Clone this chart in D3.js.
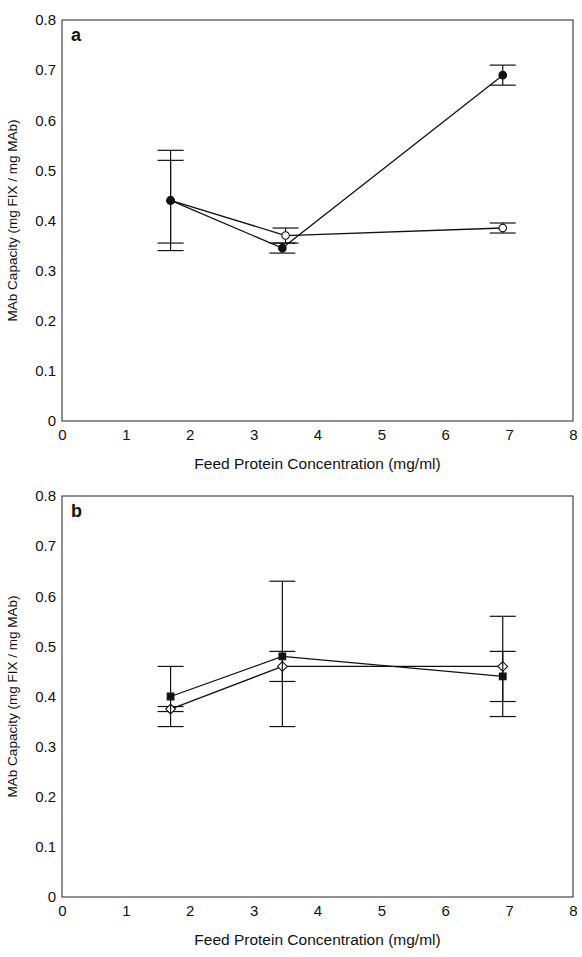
<!DOCTYPE html>
<html>
<head>
<meta charset="utf-8">
<script src="https://cdn.jsdelivr.net/npm/d3@7"></script>
<style>
  body { margin: 0; background: #fff; }
  text { font-family: "Liberation Sans", Arial, sans-serif; fill: #111; }
</style>
</head>
<body>
<div id="chart"></div>
<script>
// x positions (feed protein, mg/ml)
const feedX = [1.7, 3.45, 6.9];
const feedXOpen = [1.7, 3.5, 6.9];
const xTicks = [0, 1, 2, 3, 4, 5, 6, 7, 8];
const yTicks = [0, 0.1, 0.2, 0.3, 0.4, 0.5, 0.6, 0.7, 0.8];

// panel a
const aFilled = [0.44, 0.345, 0.69];
const aFilledLo = [0.34, 0.335, 0.67];
const aFilledHi = [0.54, 0.355, 0.71];
const aOpen = [0.44, 0.37, 0.385];
const aOpenLo = [0.355, 0.355, 0.375];
const aOpenHi = [0.52, 0.385, 0.395];

// panel b
const bSquare = [0.40, 0.48, 0.44];
const bSquareLo = [0.34, 0.34, 0.36];
const bSquareHi = [0.46, 0.63, 0.56];
const bDiamond = [0.375, 0.46, 0.46];
const bDiamondLo = [0.37, 0.43, 0.39];
const bDiamondHi = [0.38, 0.49, 0.49];

const W = 582, H = 957;
const svg = d3.select("#chart").append("svg")
  .attr("width", W).attr("height", H);

const x = d3.scaleLinear().domain([0, 8]).range([62, 573]);

function rows(xs, ys, lo, hi) {
  return xs.map((v, i) => ({x: v, y: ys[i], lo: lo[i], hi: hi[i]}));
}

function panel(top, bottom, letter, series) {
  const y = d3.scaleLinear().domain([0, 0.8]).range([bottom, top]);
  const g = svg.append("g");

  // frame
  g.append("rect")
    .attr("x", x(0)).attr("y", y(0.8))
    .attr("width", x(8) - x(0)).attr("height", y(0) - y(0.8))
    .attr("fill", "none").attr("stroke", "#222").attr("stroke-width", 1);

  const xa = g.append("g")
    .attr("transform", `translate(0,${bottom})`)
    .call(d3.axisBottom(x).tickValues(xTicks).tickSize(0).tickPadding(8).tickFormat(d3.format("d")));
  xa.select(".domain").remove();
  xa.selectAll("text").style("font-size", "15px").attr("fill", "#111");

  const ya = g.append("g")
    .attr("transform", `translate(${x(0)},0)`)
    .call(d3.axisLeft(y).tickValues(yTicks).tickSize(0).tickPadding(6)
      .tickFormat(d => d === 0 ? "0" : d3.format(".1f")(d)));
  ya.select(".domain").remove();
  ya.selectAll("text").style("font-size", "15px").attr("fill", "#111");

  g.append("text")
    .attr("x", (x(0) + x(8)) / 2).attr("y", bottom + 48)
    .attr("text-anchor", "middle").style("font-size", "15.5px")
    .text("Feed Protein Concentration (mg/ml)");

  g.append("text")
    .attr("transform", `translate(17,${(top + bottom) / 2}) rotate(-90)`)
    .attr("text-anchor", "middle").style("font-size", "13.5px")
    .text("MAb Capacity (mg FIX / mg MAb)");

  g.append("text")
    .attr("x", x(0) + 9).attr("y", top + 21)
    .style("font-size", "18px").style("font-weight", "bold")
    .text(letter);

  const line = d3.line().x(d => x(d.x)).y(d => y(d.y));

  series.forEach(s => {
    const data = rows(s.x, s.y, s.lo, s.hi);
    // error bars
    const eb = g.append("g").selectAll("g").data(data).join("g");
    eb.append("line")
      .attr("x1", d => x(d.x)).attr("x2", d => x(d.x))
      .attr("y1", d => y(d.lo)).attr("y2", d => y(d.hi))
      .attr("stroke", "#111").attr("stroke-width", 1.2);
    eb.append("line")
      .attr("x1", d => x(d.x) - 13).attr("x2", d => x(d.x) + 13)
      .attr("y1", d => y(d.lo)).attr("y2", d => y(d.lo))
      .attr("stroke", "#111").attr("stroke-width", 1.2);
    eb.append("line")
      .attr("x1", d => x(d.x) - 13).attr("x2", d => x(d.x) + 13)
      .attr("y1", d => y(d.hi)).attr("y2", d => y(d.hi))
      .attr("stroke", "#111").attr("stroke-width", 1.2);

    g.append("path").datum(data)
      .attr("d", line).attr("fill", "none")
      .attr("stroke", "#111").attr("stroke-width", 1.3);

    g.append("g").selectAll("path").data(data).join("path")
      .attr("transform", d => `translate(${x(d.x)},${y(d.y)})`)
      .attr("d", d3.symbol().type(s.shape).size(s.size))
      .attr("fill", s.fill).attr("stroke", "#111").attr("stroke-width", 1.1);
  });
}

panel(20, 421, "a", [
  {x: feedXOpen, y: aOpen, lo: aOpenLo, hi: aOpenHi, shape: d3.symbolCircle, size: 45, fill: "#fff"},
  {x: feedX, y: aFilled, lo: aFilledLo, hi: aFilledHi, shape: d3.symbolCircle, size: 45, fill: "#111"}
]);

panel(496, 897, "b", [
  {x: feedX, y: bDiamond, lo: bDiamondLo, hi: bDiamondHi, shape: d3.symbolDiamond2, size: 60, fill: "#fff"},
  {x: feedX, y: bSquare, lo: bSquareLo, hi: bSquareHi, shape: d3.symbolSquare, size: 45, fill: "#111"}
]);
</script>
</body>
</html>
